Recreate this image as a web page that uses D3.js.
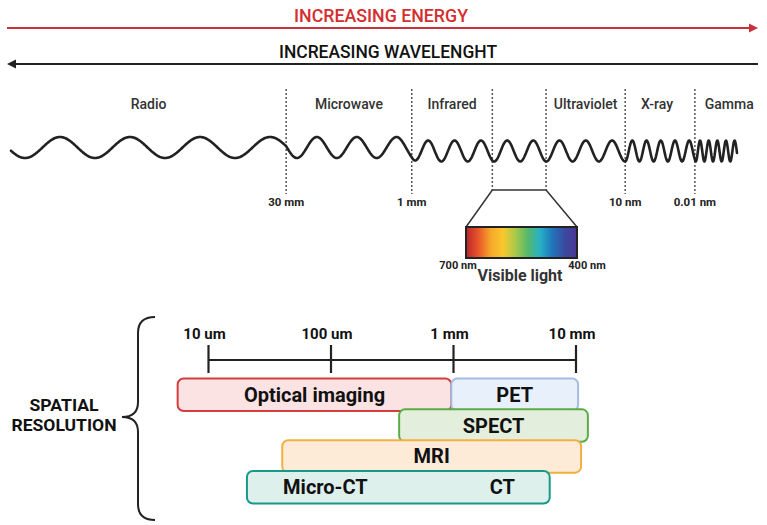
<!DOCTYPE html>
<html><head><meta charset="utf-8">
<script src="https://cdn.jsdelivr.net/npm/d3@7"></script>
<style>body{margin:0;background:#fff} svg{display:block} text{font-family:Roboto,'Open Sans',sans-serif}</style>
</head><body><svg id="c" width="767" height="525"></svg>
<script>
// ---------- data ----------
const topTitles = ["INCREASING ENERGY", "INCREASING WAVELENGHT"];
const bandNames = ["Radio", "Microwave", "Infrared", "", "Ultraviolet", "X-ray", "Gamma"];
const bandEdges = [0, 37.9, 55.2, 66.3, 73.7, 84.6, 94.2, 105.3]; // schematic units
const waveEnd = 100;
const waveStartPhase = -0.2;
const waveCycles = [3.93, 3.15, 3.05, 2.06, 3.01, 4.9, 4.88];
const edgeLabels = ["30 mm", "1 mm", "", "", "10 nm", "0.01 nm"]; // inner edges 1..6
const visibleLabels = ["700 nm", "400 nm"];
const visibleTitle = "Visible light";
const visibleColors = ["#b9262c", "#e8552a", "#f7a72a", "#f9c82e", "#a9c94a", "#56b96a", "#26b1c6", "#2174bb", "#3b4aa0", "#4b3594"];
const resTicks = [0.01, 0.1, 1, 10];
const resTickLabels = ["10 um", "100 um", "1 mm", "10 mm"];
const sideLabel = ["SPATIAL", "RESOLUTION"];
const modMin = [0.0056, 0.96, 0.36, 0.04, 0.0206];
const modMax = [0.96, 10.4, 12.5, 11.0, 6.1];
const modRow = [0, 0, 1, 2, 3];
const modLabels = [["Optical imaging"], ["PET"], ["SPECT"], ["MRI"], ["Micro-CT", "CT"]];
const modLabelAt = [[null], [null], [null], [null], [0.09, 2.5]];
const modFill = ["#fbe3e3", "#e8f0fb", "#e4eedd", "#fdebd8", "#def0ec"];
const modStroke = ["#d43d3d", "#a3bde3", "#5aad45", "#f0b040", "#17998a"];

// ---------- drawing ----------
const svg = d3.select("#c");

// top arrows
const red = "#c8323a", dark = "#222";
const ax = d3.scaleLinear().domain([0, 1]).range([7, 758]);
function arrow(y, color, dir) {
  const x0 = dir > 0 ? ax(0) : ax(1), x1 = dir > 0 ? ax(1) : ax(0);
  svg.append("line").attr("x1", x0).attr("x2", x1 - dir * 6).attr("y1", y).attr("y2", y)
    .attr("stroke", color).attr("stroke-width", 2);
  svg.append("path").attr("d", `M${x1},${y} L${x1 - dir * 9},${y - 4.5} L${x1 - dir * 9},${y + 4.5} Z`).attr("fill", color);
}
arrow(28, red, 1);
arrow(64, dark, -1);
svg.append("text").attr("x", 381).attr("y", 22).attr("text-anchor", "middle")
  .attr("font-size", 18.5).attr("font-weight", 500).attr("fill", "#d42e2e")
  .attr("textLength", 174).attr("lengthAdjust", "spacingAndGlyphs").text(topTitles[0]);
svg.append("text").attr("x", 388).attr("y", 58).attr("text-anchor", "middle")
  .attr("font-size", 18.5).attr("font-weight", 500).attr("fill", "#111")
  .attr("textLength", 218).attr("lengthAdjust", "spacingAndGlyphs").text(topTitles[1]);

// spectrum scale
const sx = d3.scaleLinear().domain([0, waveEnd]).range([11, 737]);

// band labels
bandNames.forEach((n, i) => {
  if (!n) return;
  svg.append("text").attr("x", sx((bandEdges[i] + bandEdges[i + 1]) / 2) - (i === 6 ? 6 : 0) - (i === 5 ? 3 : 0)).attr("y", 109)
    .attr("text-anchor", "middle").attr("font-size", 14).attr("font-weight", 500).attr("fill", "#333").text(n);
});

// dashed boundaries
bandEdges.slice(1, 7).forEach((e, k) => {
  const x = sx(e);
  const vis = (k === 2 || k === 3);
  svg.append("line").attr("x1", x).attr("x2", x).attr("y1", 89).attr("y2", vis ? 190 : 194)
    .attr("stroke", "#555").attr("stroke-width", 1.5).attr("stroke-dasharray", "2,2");
  if (edgeLabels[k]) {
    svg.append("text").attr("x", x).attr("y", 206).attr("text-anchor", "middle")
      .attr("font-size", 11.5).attr("font-weight", 700).attr("fill", "#222").text(edgeLabels[k]);
  }
});

// wave
const midY = d3.scaleLinear().domain([sx(bandEdges[2]) - 14, sx(bandEdges[2]) + 10]).range([147.5, 151]).clamp(true);
const amp = 10.5;
const cum = [waveStartPhase];
waveCycles.forEach((c, i) => cum.push(cum[i] + c));
const pts = [];
for (let x = sx(0); x <= sx(waveEnd) + 0.01; x += 0.5) {
  const u = sx.invert(x);
  let i = 0;
  while (i < bandEdges.length - 2 && u >= bandEdges[i + 1]) i++;
  const w = Math.min(bandEdges[i + 1], waveEnd) - bandEdges[i];
  const ph = cum[i] + waveCycles[i] * (u - bandEdges[i]) / w;
  pts.push([x, midY(x) + amp * Math.cos(2 * Math.PI * ph)]);
}
svg.append("path").attr("d", d3.line()(pts)).attr("fill", "none").attr("stroke", "#222")
  .attr("stroke-width", 2.6).attr("stroke-linejoin", "round").attr("stroke-linecap", "round");

// visible light zoom
const vx0 = sx(bandEdges[3]), vx1 = sx(bandEdges[4]);
const rx0 = 466, rx1 = 577, ry0 = 227, ry1 = 258;
svg.append("path").attr("d", `M${rx0},${ry0} L${vx0},190 L${vx1},190 L${rx1},${ry0}`)
  .attr("fill", "none").attr("stroke", "#333").attr("stroke-width", 1.5);
const grad = svg.append("defs").append("linearGradient").attr("id", "vis");
visibleColors.forEach((c, i) => grad.append("stop").attr("offset", i / (visibleColors.length - 1)).attr("stop-color", c));
svg.append("rect").attr("x", rx0).attr("y", ry0).attr("width", rx1 - rx0).attr("height", ry1 - ry0)
  .attr("fill", "url(#vis)").attr("stroke", "#222").attr("stroke-width", 2);
svg.append("text").attr("x", 458).attr("y", 269).attr("text-anchor", "middle").attr("font-size", 11)
  .attr("font-weight", 700).attr("fill", "#222").text(visibleLabels[0]);
svg.append("text").attr("x", 587).attr("y", 269).attr("text-anchor", "middle").attr("font-size", 11)
  .attr("font-weight", 700).attr("fill", "#222").text(visibleLabels[1]);
svg.append("text").attr("x", 520).attr("y", 281).attr("text-anchor", "middle").attr("font-size", 16)
  .attr("font-weight", 700).attr("fill", "#333").text(visibleTitle);

// resolution scale
const x = d3.scaleLog().domain([0.01, 10]).range([208.5, 576]);
const axisY = 360;
svg.append("line").attr("x1", x(resTicks[0])).attr("x2", x(resTicks[resTicks.length - 1]))
  .attr("y1", axisY).attr("y2", axisY).attr("stroke", "#222").attr("stroke-width", 2.2);
resTicks.forEach((t, i) => {
  svg.append("line").attr("x1", x(t)).attr("x2", x(t)).attr("y1", axisY - 15).attr("y2", axisY + 13)
    .attr("stroke", "#222").attr("stroke-width", 2.2);
  svg.append("text").attr("x", x(t) - 4).attr("y", 339).attr("text-anchor", "middle").attr("font-size", 15)
    .attr("font-weight", 700).attr("fill", "#111").text(resTickLabels[i]);
});

// modality bars
const ry = d3.scaleLinear().domain([0, 3]).range([378.5, 471]);
const barH = 32.5;
modMin.forEach((m, i) => {
  const x0 = x(m), x1 = x(modMax[i]), y0 = ry(modRow[i]);
  svg.append("rect").attr("x", x0).attr("y", y0).attr("width", x1 - x0).attr("height", barH)
    .attr("rx", 6).attr("fill", modFill[i]).attr("stroke", modStroke[i]).attr("stroke-width", 2);
  modLabels[i].forEach((lab, j) => {
    const at = modLabelAt[i][j];
    const cx = at == null ? (x0 + x1) / 2 : x(at);
    svg.append("text").attr("x", cx).attr("y", y0 + barH / 2 + 7).attr("text-anchor", "middle")
      .attr("font-size", 20).attr("font-weight", 700).attr("fill", "#111").text(lab);
  });
});

// brace
svg.append("path").attr("d", "M155,317 Q138,317 138,333 L138,402 Q138,417 122,417 Q138,417 138,432 L138,504 Q138,520 155,520")
  .attr("fill", "none").attr("stroke", "#222").attr("stroke-width", 2);
const sideW = [69, 105];
sideLabel.forEach((s, i) => {
  svg.append("text").attr("x", 64).attr("y", 411 + i * 19.5).attr("text-anchor", "middle").attr("font-size", 16)
    .attr("font-weight", 700).attr("fill", "#111")
    .attr("textLength", sideW[i]).attr("lengthAdjust", "spacingAndGlyphs").text(s);
});
</script></body></html>
